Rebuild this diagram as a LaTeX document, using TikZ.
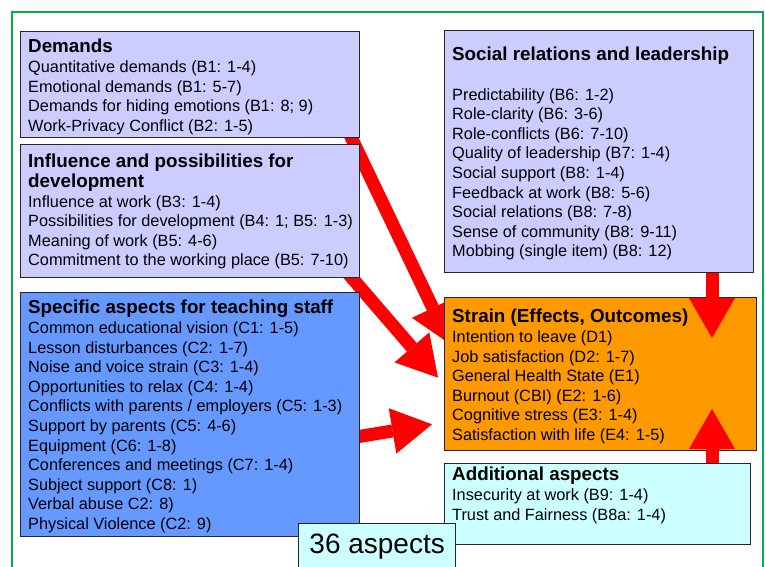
\documentclass[tikz,border=0pt]{standalone}
\usepackage{fontspec}
\setmainfont{Liberation Sans}
\usetikzlibrary{arrows.meta,backgrounds}
\definecolor{lavender}{HTML}{CCCCFF}
\definecolor{staffblue}{HTML}{6699FF}
\definecolor{strainorange}{HTML}{FF9900}
\definecolor{lightcyan}{HTML}{CCFFFF}
\definecolor{framegreen}{HTML}{00B050}
\newcommand{\itemsize}{\fontsize{16.3}{19.6}\selectfont}
\newcommand{\heading}[1]{{\fontsize{18.8}{19.6}\selectfont\bfseries #1}}
\begin{document}
\begin{tikzpicture}[x=1pt, y=-1pt,
  box/.style={draw=black!85, line width=1.3pt, anchor=north west, inner sep=0pt},
  txt/.style={anchor=north west, align=left, inner xsep=8pt, inner ysep=8pt, font=\itemsize},
  bigarrow/.style={draw=red, line width=13pt, -{Triangle[length=40pt,width=46pt,line width=0pt]}}]
   \useasboundingbox (0,0) rectangle (765,566);
   \draw [framegreen, line width=2.5pt] (12,12) rectangle (763,620);
   % left column
   \node [box, fill=lavender, minimum width=339pt, minimum height=106pt] (dem) at (20,31) {};
   \node [txt] (demtxt) at (dem.north west) {\heading{Demands}\\
      Quantitative demands (B1: 1-4)\\ Emotional demands (B1: 5-7)\\
      Demands for hiding emotions (B1: 8; 9)\\ Work-Privacy Conflict (B2: 1-5)};
   \node [box, fill=lavender, minimum width=339pt, minimum height=133pt] (infl) at (20,144) {};
   \node [txt, yshift=-2pt] (infltxt) at (infl.north west) {\heading{Influence and possibilities for}\\
      \heading{development}\\ Influence at work (B3: 1-4)\\
      Possibilities for development (B4: 1; B5: 1-3)\\ Meaning of work (B5: 4-6)\\
      Commitment to the working place (B5: 7-10)};
   \node [box, fill=staffblue, minimum width=339pt, minimum height=244pt] (spec) at (20,292) {};
   \node [txt] (spectxt) at (spec.north west) {\heading{Specific aspects for teaching staff}\\
      Common educational vision (C1: 1-5)\\ Lesson disturbances (C2: 1-7)\\
      Noise and voice strain (C3: 1-4)\\ Opportunities to relax (C4: 1-4)\\
      Conflicts with parents / employers (C5: 1-3)\\ Support by parents (C5: 4-6)\\
      Equipment (C6: 1-8)\\ Conferences and meetings (C7: 1-4)\\
      Subject support (C8: 1)\\ Verbal abuse C2: 8)\\ Physical Violence (C2: 9)};
   % right column
   \node [box, fill=lavender, minimum width=309pt, minimum height=242pt] (soc) at (444,30) {};
   \node [txt, yshift=-9pt] (soctxt) at (soc.north west) {\heading{Social relations and leadership}\\[19.6pt]
      Predictability (B6: 1-2)\\ Role-clarity (B6: 3-6)\\ Role-conflicts (B6: 7-10)\\
      Quality of leadership (B7: 1-4)\\ Social support (B8: 1-4)\\
      Feedback at work (B8: 5-6)\\ Social relations (B8: 7-8)\\
      Sense of community (B8: 9-11)\\ Mobbing (single item) (B8: 12)};
   \node [box, fill=strainorange, minimum width=312pt, minimum height=153pt] (strain) at (444,297) {};
   \node [txt, yshift=-4pt] (straintxt) at (strain.north west) {\heading{Strain (Effects, Outcomes)}\\
      Intention to leave (D1)\\ Job satisfaction (D2: 1-7)\\
      General Health State (E1)\\ Burnout (CBI) (E2: 1-6)\\
      Cognitive stress (E3: 1-4)\\ Satisfaction with life (E4: 1-5)};
   \node [box, fill=lightcyan, minimum width=306pt, minimum height=81pt] (add) at (444,463) {};
   \node [txt, yshift=4pt] (addtxt) at (add.north west) {\heading{Additional aspects}\\
      Insecurity at work (B9: 1-4)\\ Trust and Fairness (B8a: 1-4)};
   % arrows into strain
   \begin{scope}[on background layer]
      \draw [bigarrow] ([xshift=-12pt,yshift=7pt]dem.south east) -- ([xshift=6pt,yshift=-47pt]strain.north west);
      \draw [bigarrow] ([xshift=-14pt,yshift=7pt]infl.south east) -- ([xshift=-6pt,yshift=-3.5pt]strain.west);
      \draw [bigarrow] ([xshift=-14pt,yshift=-24pt]spec.east) -- ([xshift=-12pt,yshift=27pt]strain.south west);
   \end{scope}
   \coordinate (downtip) at (712,338);
   \coordinate (uptip) at (712,409);
   \draw [bigarrow] (soc.south -| downtip) -- (downtip);
   \draw [bigarrow] (add.north -| uptip) -- (uptip);
   \node [box, fill=lightcyan, minimum width=157pt, minimum height=46pt, font=\fontsize{28}{30}\selectfont] (asp) at (298,523) {36 aspects};
\end{tikzpicture}
\end{document}
